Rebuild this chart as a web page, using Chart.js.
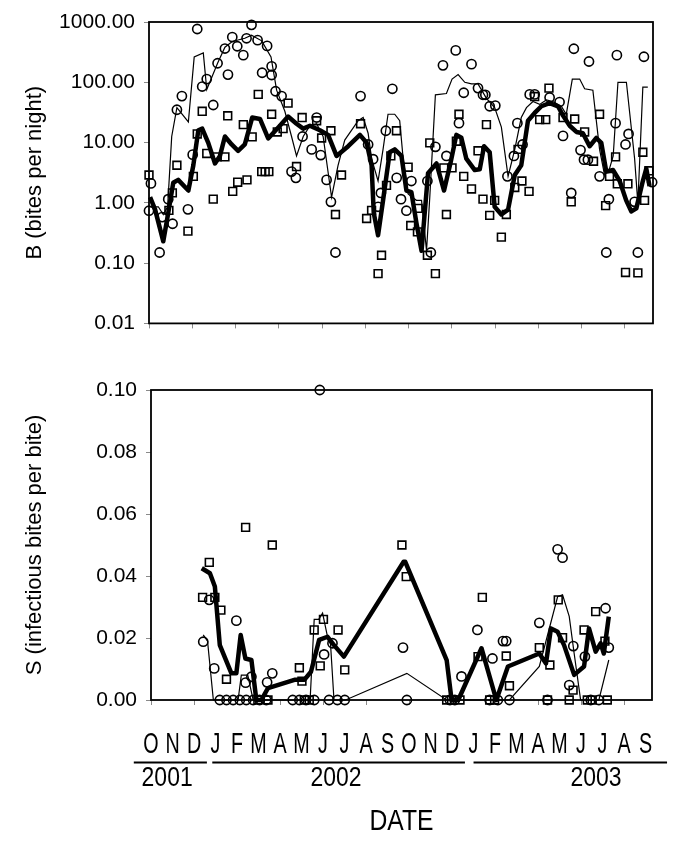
<!DOCTYPE html>
<html>
<head>
<meta charset="utf-8">
<script src="https://cdn.jsdelivr.net/npm/chart.js@4.4.1/dist/chart.umd.min.js"></script>
<style>
  html, body { margin: 0; padding: 0; background: #fff; }
  #wrap { position: relative; width: 685px; height: 851px; }
  #topBox { position: absolute; left: 0; top: 0; }
  #botBox { position: absolute; left: 0; top: 345px; }
</style>
</head>
<body>
<div id="wrap">
  <div id="topBox"><canvas id="bitesChart" width="685" height="345"></canvas></div>
  <div id="botBox"><canvas id="sporoChart" width="685" height="506"></canvas></div>
</div>
<script>
// x values are months since 1 Oct 2001

const monthLetters = ["O", "N", "D", "J", "F", "M", "A", "M", "J", "J", "A", "S",
                      "O", "N", "D", "J", "F", "M", "A", "M", "J", "J", "A", "S"];
const yearLabels = ["2001", "2002", "2003"];
const yearLineFrom = [-0.8, 2.85, 15.0];
const yearLineTo = [2.6, 14.6, 24.0];
const yearLabelAt = [0.75, 8.6, 20.7];

const bTicks = [0.01, 0.1, 1, 10, 100, 1000];
const sTicks = [0, 0.02, 0.04, 0.06, 0.08, 0.1];

// B (bites per night)
const bCircles = [
  [0.09, 2.1], [0.0, 0.74], [0.49, 0.15], [0.61, 0.58], [0.89, 1.15], [1.09, 0.45],
  [1.29, 35], [1.52, 59], [1.80, 0.78], [2.02, 6.3], [2.23, 766], [2.46, 85],
  [2.67, 113], [2.97, 42], [3.17, 207], [3.51, 363], [3.65, 134], [3.85, 563],
  [4.08, 396], [4.36, 282], [4.51, 537], [4.74, 896], [5.02, 500], [5.23, 144],
  [5.46, 401], [5.67, 132], [5.67, 184], [5.85, 71], [6.13, 59], [6.59, 3.3],
  [6.79, 2.6], [7.10, 12.6], [7.52, 7.7], [7.75, 26], [7.94, 6.2], [8.21, 2.4],
  [8.41, 1.04], [8.62, 0.15], [9.78, 59], [10.13, 9.3], [10.36, 5.3], [10.59, 0.86],
  [10.72, 1.46], [10.95, 15.7], [11.25, 78], [11.45, 2.6], [11.65, 1.15], [11.90, 0.74],
  [12.13, 2.3], [12.87, 2.3], [13.03, 0.15], [13.24, 8.5], [13.59, 191], [13.75, 6],
  [14.18, 338], [14.33, 21], [14.55, 67], [14.91, 200], [15.21, 80], [15.44, 62],
  [15.55, 62], [15.75, 40], [16.01, 41], [16.57, 2.75], [16.87, 6], [17.03, 21],
  [17.27, 9.3], [17.60, 63], [17.83, 63], [18.52, 56], [18.98, 47], [19.14, 12.9],
  [19.64, 360], [19.52, 1.46], [19.95, 7.5], [20.11, 5.2], [20.29, 5.2], [20.34, 221],
  [20.83, 2.75], [21.14, 0.15], [21.26, 1.15], [21.57, 21], [21.63, 282], [22.03, 9.3],
  [22.17, 13.9], [22.45, 1.04], [22.60, 0.15], [22.88, 265], [23.26, 2.2]
];
const bSquares = [
  [0.0, 2.9], [0.92, 0.75], [1.08, 1.46], [1.29, 4.2], [1.80, 0.34], [2.05, 2.75],
  [2.23, 13.9], [2.46, 33], [2.67, 6.6], [2.97, 1.15], [3.15, 5.8], [3.51, 5.8],
  [3.64, 27.8], [3.87, 1.55], [4.10, 2.2], [4.36, 19.8], [4.53, 2.4], [4.77, 12.4],
  [5.05, 63], [5.21, 3.3], [5.37, 3.3], [5.54, 3.3], [5.67, 29.5], [5.93, 15],
  [6.20, 17], [6.43, 45], [6.82, 4], [7.08, 26], [7.75, 23], [7.98, 11.9],
  [8.41, 15.7], [8.62, 0.64], [8.90, 2.9], [9.78, 20.5], [10.06, 0.55], [10.29, 0.75],
  [10.59, 0.067], [10.75, 0.135], [10.98, 1.95], [11.18, 6], [11.44, 15.7], [11.98, 3.9],
  [12.10, 0.42], [12.41, 0.33], [12.44, 0.81], [12.87, 0.135], [12.98, 9.9], [13.24, 0.067],
  [13.63, 3.8], [13.75, 0.64], [14.01, 3.8], [14.21, 10.5], [14.33, 29.5], [14.55, 2.75],
  [14.91, 1.7], [15.21, 7.3], [15.44, 1.15], [15.60, 19.8], [15.75, 0.62], [15.98, 1.1],
  [16.29, 0.27], [16.52, 0.64], [16.91, 1.8], [17.06, 7.7], [17.24, 2.3], [17.57, 1.55],
  [17.83, 58], [18.06, 24], [18.34, 24], [18.49, 80], [19.14, 26], [19.52, 1.04],
  [19.68, 24.6], [20.14, 15], [20.55, 4.9], [20.83, 29.5], [21.11, 0.9], [21.29, 2.75],
  [21.57, 5.8], [21.65, 2.07], [22.03, 0.07], [22.14, 2.07], [22.60, 0.069], [22.83, 6.9],
  [22.91, 1.1], [23.11, 3.4]
];
const bThin = [
  [0.05, 0.86], [0.43, 0.86], [0.66, 0.64], [0.86, 0.86], [1.05, 12.6], [1.29, 38],
  [1.82, 22], [2.09, 264], [2.51, 307], [2.67, 76], [3.17, 207], [3.51, 382],
  [3.85, 476], [4.43, 537], [4.74, 605], [5.21, 487], [5.64, 264], [5.90, 74],
  [6.28, 33], [6.59, 12.6], [6.82, 6], [7.13, 12.6], [7.44, 19], [7.75, 20.5],
  [8.05, 12.6], [8.44, 1.24], [8.74, 4.2], [9.05, 11], [9.67, 23], [9.90, 26],
  [10.13, 14.3], [10.29, 5.4], [10.59, 2.3], [10.82, 7.7], [11.05, 29.5], [11.36, 29.5],
  [11.59, 23], [11.75, 5.4], [11.98, 1.4], [12.36, 1.1], [12.60, 1.1], [12.83, 0.16],
  [12.98, 1.24], [13.24, 62], [13.75, 65], [14.01, 113], [14.29, 134], [14.60, 100],
  [14.91, 94], [15.21, 94], [15.60, 54], [15.98, 38], [16.29, 18], [16.60, 2.75],
  [16.91, 7.7], [17.21, 26], [17.45, 38], [17.75, 48], [18.06, 43], [18.37, 51],
  [18.67, 48], [19.06, 40], [19.29, 29.5], [19.57, 113], [19.91, 113], [20.14, 78],
  [20.52, 74], [20.83, 7.7], [21.06, 2.9], [21.29, 3.7], [21.46, 6], [21.68, 100],
  [22.07, 100], [22.45, 5.4], [22.60, 0.98], [22.83, 83], [23.06, 83]
];
const bThick = [
  [0.05, 1.24], [0.28, 0.78], [0.66, 0.23], [0.89, 0.68], [1.12, 2.15], [1.35, 2.4],
  [1.82, 1.6], [2.05, 4.2], [2.28, 16], [2.46, 17], [2.74, 9.9], [3.05, 4.5],
  [3.28, 6], [3.51, 12.6], [3.82, 9.3], [4.12, 7.3], [4.43, 9.3], [4.77, 26],
  [5.13, 24.6], [5.51, 11.7], [6.05, 19], [6.43, 27], [6.82, 20.5], [7.13, 17],
  [7.44, 19], [7.90, 16], [8.28, 13.4], [8.67, 6], [9.21, 8.7], [9.75, 13.4],
  [10.06, 9.9], [10.29, 4.2], [10.39, 0.68], [10.59, 0.29], [10.82, 1.1], [11.13, 6.9],
  [11.36, 7.7], [11.67, 6], [11.90, 1.6], [12.13, 1.5], [12.36, 0.47], [12.60, 0.16],
  [12.90, 3.1], [13.29, 4.5], [13.64, 1.6], [13.95, 4.8], [14.21, 13.4], [14.44, 12],
  [14.67, 5.4], [15.06, 3.5], [15.29, 3.6], [15.49, 8.7], [15.75, 6.9], [15.98, 0.86],
  [16.29, 0.64], [16.60, 0.77], [16.91, 2.9], [17.21, 4.2], [17.52, 23], [17.83, 31],
  [18.14, 40], [18.52, 45], [18.91, 40], [19.14, 28], [19.45, 19], [19.76, 15],
  [20.06, 14.3], [20.37, 8.7], [20.68, 11.9], [20.91, 9.9], [21.14, 3.3], [21.45, 3.5],
  [21.76, 2.3], [22.06, 1.1], [22.30, 0.72], [22.53, 0.81], [22.83, 2.3], [22.99, 3.7],
  [23.14, 1.9]
];

// S (infectious bites per bite)
const sCircles = [
  [2.43, 0.0188], [2.71, 0.0323], [2.94, 0.0102], [3.97, 0.0256], [4.40, 0.0056],
  [4.67, 0.0075], [5.40, 0.0057], [5.64, 0.0086], [7.85, 0.1], [8.05, 0.0147],
  [8.44, 0.0183], [11.72, 0.0169], [14.44, 0.0076], [15.18, 0.0226], [15.88, 0.0134],
  [16.37, 0.019], [16.52, 0.019], [18.06, 0.0249], [18.91, 0.0486], [19.14, 0.0459],
  [19.45, 0.0048], [19.64, 0.0174], [20.18, 0.014], [21.14, 0.0296], [21.29, 0.0169],
  [3.20, 0], [3.51, 0], [3.82, 0], [4.13, 0], [4.43, 0], [4.75, 0], [5.05, 0], [5.36, 0],
  [6.59, 0], [6.90, 0], [7.21, 0], [7.59, 0], [8.28, 0], [8.67, 0], [9.01, 0],
  [11.90, 0], [13.90, 0], [14.13, 0], [15.75, 0], [16.13, 0], [16.67, 0], [18.44, 0],
  [20.45, 0], [20.83, 0]
];
const sSquares = [
  [2.40, 0.0331], [2.71, 0.0444], [2.97, 0.0331], [3.25, 0.029], [3.51, 0.0067],
  [4.40, 0.0557], [5.64, 0.05], [6.90, 0.0104], [7.02, 0.0061], [7.59, 0.0226],
  [7.87, 0.011], [8.02, 0.026], [8.70, 0.0226], [9.01, 0.0097], [11.67, 0.05],
  [11.87, 0.0398], [15.21, 0.014], [15.41, 0.0331], [16.52, 0.0142], [16.67, 0.0046],
  [18.06, 0.0169], [18.55, 0.0113], [18.94, 0.0323], [19.14, 0.0201], [19.63, 0.0032],
  [20.14, 0.0226], [20.68, 0.0285], [21.11, 0.019],
  [4.97, 0], [5.44, 0], [7.13, 0], [7.36, 0], [13.75, 0], [13.98, 0], [14.37, 0],
  [15.75, 0], [15.98, 0], [18.44, 0], [19.45, 0], [20.29, 0], [20.52, 0], [21.22, 0]
];
const sThin = [
  [2.43, 0.021], [2.63, 0.019], [2.90, 0], [4.05, 0], [4.20, 0.008], [4.50, 0.008],
  [4.75, 0], [7.40, 0], [7.59, 0.026], [7.80, 0.026], [7.98, 0.028], [8.21, 0.0204],
  [8.35, 0.018], [8.51, 0], [9.05, 0], [11.90, 0.0086], [13.75, 0], [16.67, 0],
  [18.06, 0.0108], [18.91, 0.0333], [19.14, 0.0339], [19.45, 0.027], [19.68, 0.015],
  [19.98, 0], [20.83, 0], [21.29, 0.0129]
];
const sThick = [
  [2.36, 0.0425], [2.74, 0.0409], [2.97, 0.0366], [3.20, 0.0177], [3.74, 0.0086],
  [3.97, 0.0086], [4.17, 0.021], [4.39, 0.0134], [4.67, 0.0129], [4.90, 0], [5.13, 0],
  [5.44, 0.0038], [6.67, 0.0065], [7.13, 0.0065], [7.44, 0.0091], [7.82, 0.0194],
  [8.21, 0.0204], [8.51, 0.0177], [8.97, 0.014], [11.75, 0.0446], [11.82, 0.0446],
  [13.75, 0.0129], [13.98, 0], [14.29, 0], [15.37, 0.0167], [16.06, 0], [16.60, 0.0108],
  [18.06, 0.015], [18.37, 0.0118], [18.60, 0.0231], [18.91, 0.022], [19.21, 0.0177],
  [19.68, 0.0081], [20.14, 0.0108], [20.37, 0.0231], [20.68, 0.0156], [20.91, 0.0183],
  [21.06, 0.015], [21.29, 0.0269]
];

const xMax = 23.3;
const fontFamily = "'Liberation Sans', Arial, sans-serif";

function pts(pairs) {
  return pairs.map(function (p) { return { x: p[0], y: p[1] }; });
}

function makeDatasets(circles, squares, thin, thick) {
  return [
    { label: "thick", data: pts(thick), showLine: true, borderColor: "#000", borderWidth: 4.5,
      pointRadius: 0, order: 0, clip: false, borderJoinStyle: "round" },
    { label: "thin", data: pts(thin), showLine: true, borderColor: "#000", borderWidth: 1.2,
      pointRadius: 0, order: 1, clip: false },
    { label: "squares", data: pts(squares), pointStyle: "rect", pointRadius: 5.5,
      borderColor: "#000", borderWidth: 1.6, backgroundColor: "rgba(0,0,0,0)", order: 2, clip: false },
    { label: "circles", data: pts(circles), pointStyle: "circle", pointRadius: 4.6,
      borderColor: "#000", borderWidth: 1.6, backgroundColor: "rgba(0,0,0,0)", order: 3, clip: false }
  ];
}

// text squeezed / stretched like the scanned figure
function drawText(ctx, text, x, y, sx, sy) {
  ctx.save();
  ctx.translate(x, y);
  ctx.scale(sx, sy);
  ctx.fillText(text, 0, 0);
  ctx.restore();
}

// box round the plot area
var frameBox = {
  id: "frameBox",
  beforeDatasetsDraw: function (chart) {
    var a = chart.chartArea, ctx = chart.ctx;
    ctx.save();
    ctx.strokeStyle = "#000";
    ctx.lineWidth = 1.8;
    ctx.strokeRect(a.left, a.top, a.right - a.left, a.bottom - a.top);
    ctx.restore();
  }
};

// month letters, year rows and axis name under the lower plot
var dateRows = {
  id: "dateRows",
  afterDraw: function (chart) {
    var xs = chart.scales.x, ctx = chart.ctx, a = chart.chartArea;
    ctx.save();
    ctx.fillStyle = "#000";
    ctx.strokeStyle = "#000";
    ctx.textAlign = "center";
    ctx.textBaseline = "middle";

    ctx.font = "29px " + fontFamily;
    xs.ticks.forEach(function (t) {
      drawText(ctx, monthLetters[t.value], xs.getPixelForValue(t.value), 400, 0.68, 1);
    });

    ctx.lineWidth = 2;
    for (var i = 0; i < yearLabels.length; i++) {
      ctx.beginPath();
      ctx.moveTo(xs.getPixelForValue(yearLineFrom[i]), 417.5);
      ctx.lineTo(xs.getPixelForValue(yearLineTo[i]), 417.5);
      ctx.stroke();
      ctx.font = "27px " + fontFamily;
      drawText(ctx, yearLabels[i], xs.getPixelForValue(yearLabelAt[i]), 434, 0.85, 1);
    }

    ctx.font = "26px " + fontFamily;
    drawText(ctx, "DATE", (a.left + a.right) / 2, 477, 0.95, 1.15);
    ctx.restore();
  }
};

var tickGrey = "#8a8a8a";

document.addEventListener("DOMContentLoaded", function () {
  Chart.defaults.font.family = fontFamily;
  Chart.defaults.color = "#000";

  new Chart(document.getElementById("bitesChart").getContext("2d"), {
    type: "scatter",
    data: { datasets: makeDatasets(bCircles, bSquares, bThin, bThick) },
    options: {
      responsive: false,
      animation: false,
      layout: { padding: { left: 0, right: 32, top: 22, bottom: 0 } },
      plugins: { legend: { display: false }, tooltip: { enabled: false } },
      scales: {
        x: {
          type: "linear", min: 0, max: xMax,
          afterBuildTicks: function (s) {
            s.ticks = monthLetters.map(function (m, i) { return { value: i }; })
              .filter(function (t) { return t.value % 2 === 0; });
          },
          afterFit: function (s) { s.height = 8; },
          ticks: { display: false },
          grid: { drawOnChartArea: false, drawTicks: true, tickLength: 5, color: tickGrey },
          border: { display: false }
        },
        y: {
          type: "logarithmic", min: 0.01, max: 1000,
          afterBuildTicks: function (s) {
            s.ticks = bTicks.map(function (v) { return { value: v }; });
          },
          afterFit: function (s) { s.width = 149; },
          ticks: {
            padding: 9,
            font: { size: 21 },
            callback: function (v) { return Number(v).toFixed(2); }
          },
          grid: { drawOnChartArea: false, drawTicks: true, tickLength: 5, color: tickGrey },
          border: { display: false },
          title: { display: true, text: "B (bites per night)", font: { size: 22 }, padding: { top: 22, bottom: 0 } }
        }
      }
    },
    plugins: [frameBox]
  });

  new Chart(document.getElementById("sporoChart").getContext("2d"), {
    type: "scatter",
    data: { datasets: makeDatasets(sCircles, sSquares, sThin, sThick) },
    options: {
      responsive: false,
      animation: false,
      layout: { padding: { left: 0, right: 33, top: 45, bottom: 0 } },
      plugins: { legend: { display: false }, tooltip: { enabled: false } },
      scales: {
        x: {
          type: "linear", min: 0, max: xMax,
          afterBuildTicks: function (s) {
            s.ticks = monthLetters.map(function (m, i) { return { value: i }; });
          },
          afterFit: function (s) { s.height = 151; },
          ticks: { display: false },
          grid: {
            drawOnChartArea: false, drawTicks: true, tickLength: 5,
            color: function (c) { return c.tick && c.tick.value % 2 === 0 ? tickGrey : "rgba(0,0,0,0)"; }
          },
          border: { display: false }
        },
        y: {
          type: "linear", min: 0, max: 0.1,
          afterBuildTicks: function (s) {
            s.ticks = sTicks.map(function (v) { return { value: v }; });
          },
          afterFit: function (s) { s.width = 151; },
          ticks: {
            padding: 9,
            font: { size: 21 },
            callback: function (v) { return Number(v).toFixed(2); }
          },
          grid: { drawOnChartArea: false, drawTicks: true, tickLength: 5, color: tickGrey },
          border: { display: false },
          title: { display: true, text: "S (infectious bites per bite)", font: { size: 22 }, padding: { top: 22, bottom: 0 } }
        }
      }
    },
    plugins: [frameBox, dateRows]
  });
});
</script>
</body>
</html>
